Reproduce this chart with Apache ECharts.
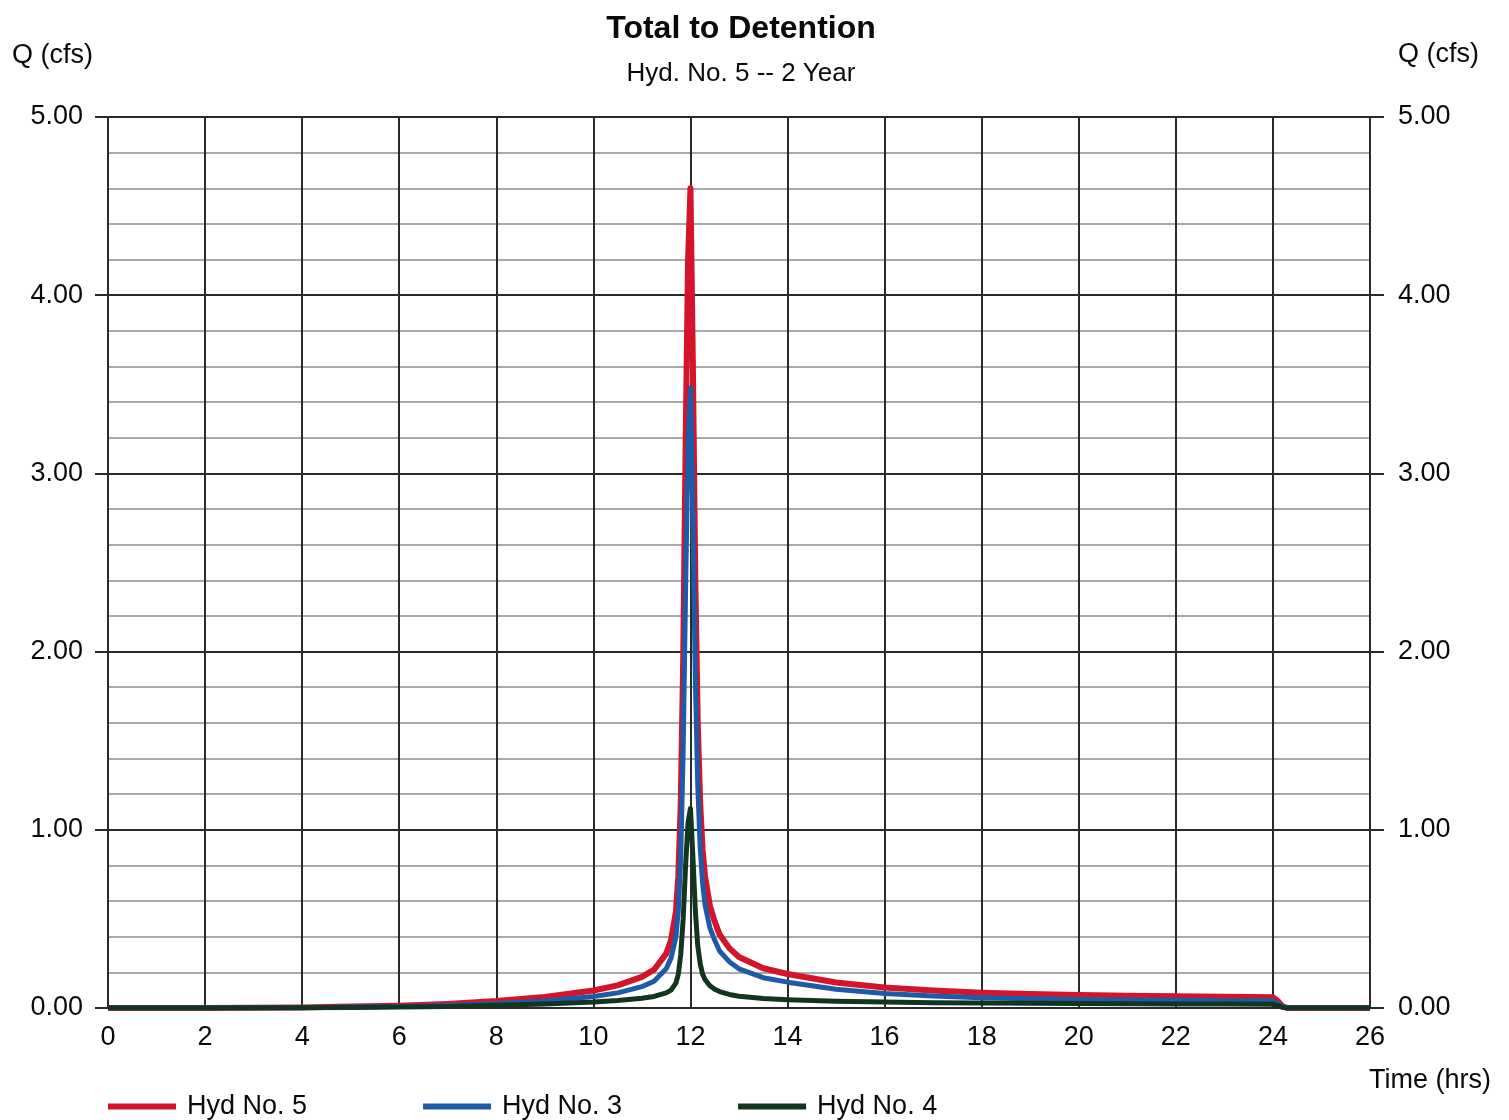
<!DOCTYPE html>
<html>
<head>
<meta charset="utf-8">
<script src="https://cdn.jsdelivr.net/npm/echarts@6/dist/echarts.min.js"></script>
<style>
  html, body { margin: 0; padding: 0; background: #fff; }
  #chart { width: 1509px; height: 1120px; }
</style>
</head>
<body>
<div id="chart"></div>
<script>
// time (hrs)
var times = [0, 2, 4, 5, 6, 7, 8, 9, 10, 10.5, 11, 11.25, 11.5, 11.6, 11.7, 11.75, 11.8, 11.85, 11.9, 11.95,
  12, 12.05, 12.1, 12.15, 12.2, 12.25, 12.3, 12.4, 12.5, 12.6, 12.8, 13, 13.5, 14, 15, 16, 17, 18, 19, 20,
  21, 22, 23, 24, 24.1, 24.2, 24.3, 26];
// Q (cfs) - Hyd No. 5 (total)
var hyd5 = [0, 0, 0.003, 0.008, 0.013, 0.023, 0.039, 0.062, 0.098, 0.127, 0.175, 0.215, 0.305, 0.38, 0.54, 0.74,
  1.15, 1.95, 3.15, 4.19, 4.6, 3.6, 2.4, 1.6, 1.15, 0.89, 0.74, 0.575, 0.485, 0.412, 0.336, 0.286, 0.223, 0.191,
  0.143, 0.115, 0.098, 0.086, 0.078, 0.073, 0.069, 0.066, 0.063, 0.061, 0.039, 0.009, 0, 0];
// Hyd No. 3
var hyd3 = [0, 0, 0.002, 0.005, 0.008, 0.014, 0.024, 0.04, 0.065, 0.085, 0.12, 0.15, 0.22, 0.28, 0.4, 0.55,
  0.85, 1.45, 2.35, 3.15, 3.48, 2.75, 1.85, 1.25, 0.9, 0.7, 0.58, 0.45, 0.38, 0.32, 0.26, 0.22, 0.17, 0.145,
  0.105, 0.082, 0.068, 0.058, 0.052, 0.048, 0.045, 0.043, 0.041, 0.04, 0.026, 0.006, 0, 0];
// Hyd No. 4
var hyd4 = [0, 0, 0.001, 0.003, 0.005, 0.009, 0.015, 0.022, 0.033, 0.042, 0.055, 0.065, 0.085, 0.1, 0.14, 0.19,
  0.3, 0.5, 0.8, 1.04, 1.12, 0.85, 0.55, 0.35, 0.25, 0.19, 0.16, 0.125, 0.105, 0.092, 0.076, 0.066, 0.053, 0.046,
  0.038, 0.033, 0.03, 0.028, 0.026, 0.025, 0.024, 0.023, 0.022, 0.021, 0.013, 0.003, 0, 0];

function pairs(vals) {
  return times.map(function (t, i) { return [t, vals[i]]; });
}

var font = 'Liberation Sans, Arial, sans-serif';
var dark = '#2a2a2a';

var chart = echarts.init(document.getElementById('chart'));
chart.setOption({
  backgroundColor: '#ffffff',
  animation: false,
  title: [
    { text: 'Total to Detention', left: 736, top: 8, textAlign: 'center',
      textStyle: { fontFamily: font, fontSize: 32, fontWeight: 'bold', color: '#0a0a0a' } },
    { text: 'Hyd. No. 5 -- 2 Year', left: 736, top: 56, textAlign: 'center',
      textStyle: { fontFamily: font, fontSize: 26, fontWeight: 'normal', color: '#0a0a0a' } }
  ],
  graphic: [
    { type: 'text', left: 12, top: 42, style: { text: 'Q (cfs)', font: '27px ' + font, fill: '#0a0a0a' } },
    { type: 'text', left: 1398, top: 41, style: { text: 'Q (cfs)', font: '27px ' + font, fill: '#0a0a0a' } },
    { type: 'text', left: 1369, top: 1067, style: { text: 'Time (hrs)', font: '27px ' + font, fill: '#0a0a0a' } }
  ],
  legend: {
    left: 103, top: 1088,
    icon: 'rect', itemWidth: 68, itemHeight: 6, itemGap: 116,
    textStyle: { fontFamily: font, fontSize: 27, color: '#0a0a0a', padding: [0, 0, 0, 6] },
    data: ['Hyd No. 5', 'Hyd No. 3', 'Hyd No. 4']
  },
  grid: { left: 108, right: 139, top: 117, bottom: 112, containLabel: false },
  xAxis: {
    type: 'value', min: 0, max: 26, interval: 2,
    axisLine: { show: true, lineStyle: { color: dark, width: 2 } },
    axisTick: { show: false },
    axisLabel: { fontFamily: font, fontSize: 27, color: '#0a0a0a', margin: 16 },
    splitLine: { show: true, lineStyle: { color: dark, width: 2 } }
  },
  yAxis: [
    {
      type: 'value', min: 0, max: 5, interval: 1, position: 'left',
      axisLine: { show: true, lineStyle: { color: dark, width: 2 } },
      axisTick: { show: true, length: 13, lineStyle: { color: dark, width: 2 } },
      axisLabel: { fontFamily: font, fontSize: 27, color: '#0a0a0a', margin: 25,
        formatter: function (v) { return v.toFixed(2); } },
      splitLine: { show: true, lineStyle: { color: dark, width: 2 } },
      minorTick: { show: false, splitNumber: 5 },
      minorSplitLine: { show: true, lineStyle: { color: '#a9a9ad', width: 2 } }
    },
    {
      type: 'value', min: 0, max: 5, interval: 1, position: 'right',
      axisLine: { show: true, lineStyle: { color: dark, width: 2 } },
      axisTick: { show: true, length: 14, lineStyle: { color: dark, width: 2 } },
      axisLabel: { fontFamily: font, fontSize: 27, color: '#0a0a0a', margin: 28,
        formatter: function (v) { return v.toFixed(2); } },
      splitLine: { show: false }
    }
  ],
  series: [
    { name: 'Hyd No. 5', type: 'line', data: pairs(hyd5), showSymbol: false,
      itemStyle: { color: '#d3142a' }, lineStyle: { color: '#d3142a', width: 6, join: 'round' } },
    { name: 'Hyd No. 3', type: 'line', data: pairs(hyd3), showSymbol: false,
      itemStyle: { color: '#1d5aa8' }, lineStyle: { color: '#1d5aa8', width: 5, join: 'round' } },
    { name: 'Hyd No. 4', type: 'line', data: pairs(hyd4), showSymbol: false,
      itemStyle: { color: '#123520' }, lineStyle: { color: '#123520', width: 5, join: 'round' } }
  ]
});
</script>
</body>
</html>
